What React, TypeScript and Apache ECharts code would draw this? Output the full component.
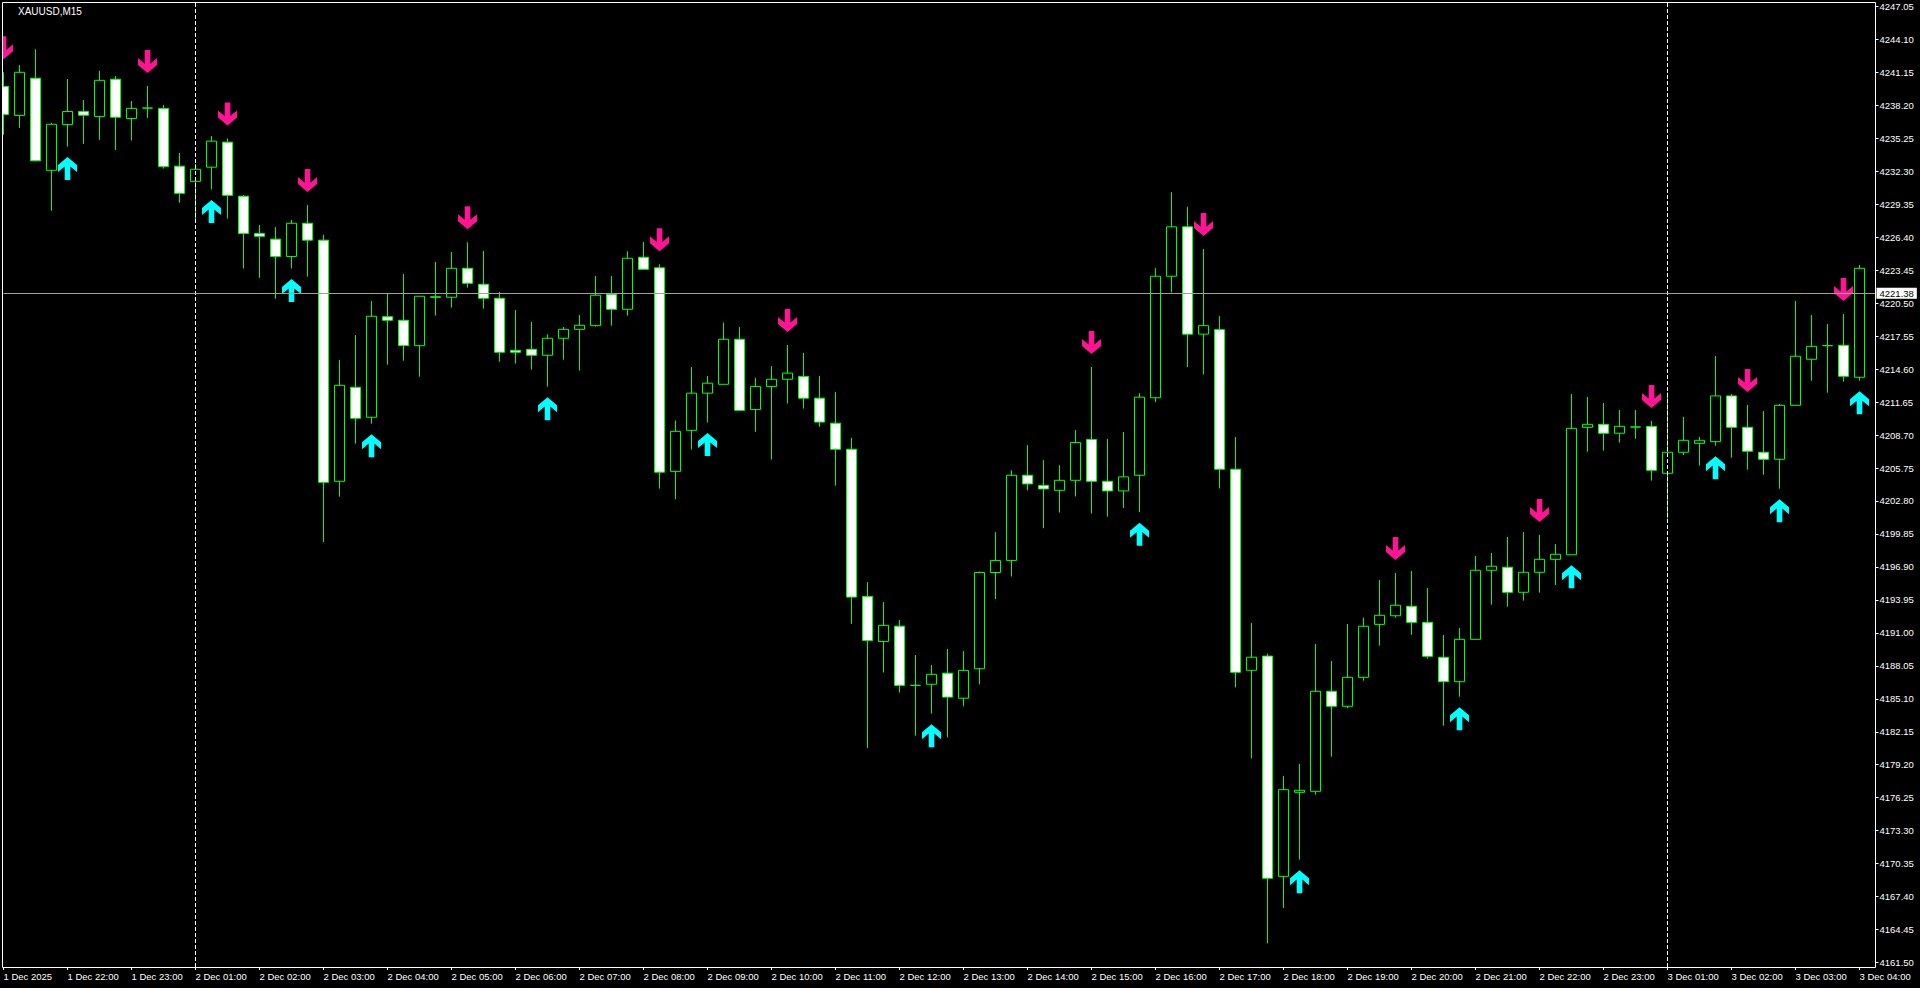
import React, { useEffect, useRef } from 'react';
import * as echarts from 'echarts';

const sessionHours = [
  '1 Dec 21', '1 Dec 22', '1 Dec 23',
  '2 Dec 01', '2 Dec 02', '2 Dec 03', '2 Dec 04', '2 Dec 05', '2 Dec 06', '2 Dec 07', '2 Dec 08',
  '2 Dec 09', '2 Dec 10', '2 Dec 11', '2 Dec 12', '2 Dec 13', '2 Dec 14', '2 Dec 15', '2 Dec 16',
  '2 Dec 17', '2 Dec 18', '2 Dec 19', '2 Dec 20', '2 Dec 21', '2 Dec 22', '2 Dec 23',
  '3 Dec 01', '3 Dec 02', '3 Dec 03', '3 Dec 04',
];
const quarters = ['00', '15', '30', '45'];

const xTickLabels = [
  '1 Dec 2025', '1 Dec 22:00', '1 Dec 23:00',
  '2 Dec 01:00', '2 Dec 02:00', '2 Dec 03:00', '2 Dec 04:00', '2 Dec 05:00', '2 Dec 06:00', '2 Dec 07:00', '2 Dec 08:00',
  '2 Dec 09:00', '2 Dec 10:00', '2 Dec 11:00', '2 Dec 12:00', '2 Dec 13:00', '2 Dec 14:00', '2 Dec 15:00', '2 Dec 16:00',
  '2 Dec 17:00', '2 Dec 18:00', '2 Dec 19:00', '2 Dec 20:00', '2 Dec 21:00', '2 Dec 22:00', '2 Dec 23:00',
  '3 Dec 01:00', '3 Dec 02:00', '3 Dec 03:00', '3 Dec 04:00',
];

const yTickLabels = [
  '4161.50', '4164.45', '4167.40', '4170.35', '4173.30', '4176.25', '4179.20', '4182.15', '4185.10', '4188.05',
  '4191.00', '4193.95', '4196.90', '4199.85', '4202.80', '4205.75', '4208.70', '4211.65', '4214.60', '4217.55',
  '4220.50', '4223.45', '4226.40', '4229.35', '4232.30', '4235.25', '4238.20', '4241.15', '4244.10', '4247.05',
];

const opens = [
  4239.90, 4237.30, 4240.63, 4232.39, 4236.48, 4237.65, 4237.21, 4240.54, 4237.02, 4237.96,
  4237.93, 4232.76, 4231.40, 4232.67, 4234.91, 4230.07, 4226.74, 4226.23, 4224.68, 4227.65,
  4226.14, 4204.56, 4212.97, 4210.29, 4219.29, 4218.97, 4216.70, 4221.02, 4221.03, 4223.62,
  4222.19, 4220.94, 4216.28, 4216.37, 4215.84, 4217.36, 4218.16, 4218.49, 4221.30, 4219.95,
  4224.61, 4223.66, 4205.45, 4209.12, 4212.45, 4213.24, 4217.27, 4210.98, 4213.05, 4213.69,
  4213.95, 4212.00, 4209.76, 4207.43, 4194.26, 4190.23, 4191.60, 4186.30, 4186.40, 4187.39,
  4185.15, 4187.79, 4196.40, 4197.48, 4205.10, 4204.19, 4203.75, 4204.65, 4208.30, 4204.56,
  4203.70, 4205.10, 4212.04, 4222.91, 4227.33, 4217.73, 4218.13, 4205.64, 4187.65, 4188.92,
  4169.21, 4176.73, 4176.82, 4185.77, 4184.43, 4187.02, 4191.76, 4192.53, 4193.38, 4191.94,
  4188.81, 4186.63, 4190.42, 4196.60, 4196.87, 4194.63, 4196.42, 4197.58, 4197.99, 4209.39,
  4209.66, 4208.86, 4209.42, 4209.48, 4205.28, 4207.16, 4207.96, 4208.11, 4212.20, 4209.39,
  4207.16, 4206.53, 4211.36, 4215.48, 4216.70, 4216.73, 4213.87,
];
const highs = [
  4241.16, 4241.80, 4243.22, 4236.63, 4240.56, 4238.68, 4241.29, 4240.83, 4238.59, 4239.93,
  4238.24, 4233.94, 4232.97, 4235.45, 4235.24, 4230.18, 4227.50, 4227.31, 4227.95, 4229.28,
  4226.62, 4215.42, 4217.65, 4220.70, 4221.32, 4223.11, 4221.12, 4224.19, 4225.08, 4225.95,
  4225.17, 4221.50, 4219.89, 4218.82, 4217.72, 4218.37, 4219.44, 4222.93, 4222.93, 4225.14,
  4225.98, 4223.98, 4210.01, 4214.78, 4213.98, 4218.77, 4218.36, 4213.82, 4214.87, 4216.76,
  4216.05, 4213.98, 4212.54, 4208.45, 4195.54, 4193.75, 4192.15, 4189.02, 4188.12, 4189.56,
  4189.37, 4196.49, 4200.01, 4205.55, 4207.80, 4206.45, 4206.00, 4209.15, 4214.79, 4208.35,
  4208.97, 4212.45, 4223.63, 4230.43, 4229.13, 4225.34, 4219.34, 4208.53, 4191.89, 4189.14,
  4178.19, 4179.26, 4190.00, 4188.48, 4191.79, 4192.36, 4195.73, 4196.36, 4196.53, 4195.01,
  4190.81, 4191.43, 4197.88, 4198.15, 4199.58, 4200.02, 4199.76, 4198.95, 4212.37, 4212.11,
  4211.57, 4210.94, 4210.94, 4209.96, 4212.53, 4210.32, 4208.53, 4215.77, 4212.37, 4211.39,
  4210.85, 4211.48, 4220.70, 4219.44, 4218.64, 4219.53, 4223.92,
];
const lows = [
  4235.57, 4236.18, 4233.18, 4228.77, 4234.51, 4234.75, 4235.11, 4234.21, 4235.06, 4237.08,
  4232.54, 4229.49, 4227.70, 4230.67, 4228.07, 4223.60, 4222.77, 4220.90, 4223.60, 4222.87,
  4199.12, 4203.18, 4207.93, 4209.72, 4215.00, 4215.35, 4213.92, 4219.38, 4220.10, 4221.89,
  4220.01, 4215.26, 4215.09, 4214.55, 4213.03, 4215.44, 4214.46, 4218.40, 4218.49, 4219.38,
  4223.47, 4203.91, 4202.95, 4207.40, 4209.82, 4213.24, 4210.91, 4208.99, 4206.50, 4211.52,
  4211.07, 4209.44, 4204.17, 4191.80, 4180.68, 4187.45, 4185.66, 4181.80, 4183.77, 4181.64,
  4184.42, 4186.39, 4194.01, 4196.04, 4203.75, 4200.36, 4201.76, 4203.21, 4201.67, 4201.40,
  4202.17, 4201.80, 4211.64, 4221.47, 4214.79, 4214.12, 4203.93, 4186.12, 4179.76, 4163.22,
  4166.38, 4170.70, 4176.52, 4179.92, 4184.25, 4186.72, 4189.85, 4192.36, 4190.83, 4188.69,
  4182.69, 4185.29, 4190.42, 4193.52, 4193.34, 4193.88, 4194.59, 4195.28, 4197.99, 4207.21,
  4207.30, 4208.02, 4208.37, 4204.62, 4201.25, 4206.92, 4205.96, 4207.75, 4206.67, 4205.60,
  4205.15, 4203.90, 4211.36, 4213.56, 4212.49, 4213.47, 4213.56,
];
const closes = [
  4237.39, 4241.16, 4233.24, 4236.51, 4237.65, 4237.32, 4240.44, 4237.14, 4237.93, 4237.96,
  4232.72, 4230.33, 4232.48, 4235.00, 4230.15, 4226.74, 4226.49, 4224.68, 4227.65, 4226.14,
  4204.47, 4213.15, 4210.20, 4219.33, 4218.97, 4216.70, 4221.12, 4221.08, 4223.62, 4222.28,
  4220.94, 4216.11, 4216.11, 4215.84, 4217.36, 4218.16, 4218.52, 4221.21, 4219.95, 4224.52,
  4223.53, 4205.38, 4209.03, 4212.45, 4213.34, 4217.27, 4210.91, 4213.05, 4213.69, 4214.24,
  4212.00, 4209.86, 4207.43, 4194.20, 4190.32, 4191.67, 4186.30, 4186.30, 4187.29, 4185.25,
  4187.64, 4196.40, 4197.48, 4205.10, 4204.33, 4203.88, 4204.65, 4208.03, 4204.56, 4203.70,
  4204.96, 4212.09, 4222.91, 4227.33, 4217.73, 4218.49, 4205.64, 4187.47, 4188.82, 4169.04,
  4176.97, 4176.91, 4185.77, 4184.43, 4187.02, 4191.59, 4192.57, 4193.47, 4191.94, 4188.90,
  4186.63, 4190.42, 4196.60, 4196.96, 4194.63, 4196.42, 4197.58, 4198.03, 4209.30, 4209.66,
  4208.86, 4209.48, 4209.42, 4205.55, 4207.16, 4208.23, 4208.23, 4212.20, 4209.39, 4207.25,
  4206.53, 4211.36, 4215.75, 4216.64, 4216.70, 4213.96, 4223.62,
];

const sellSignalIdx = [0, 9, 14, 19, 29, 41, 49, 68, 75, 87, 96, 103, 109, 115];
const buySignalIdx = [4, 13, 18, 23, 34, 44, 58, 71, 81, 91, 98, 107, 111, 116];

const priceLine = 4221.38;
const daySeparators = ['2 Dec 01:00', '3 Dec 01:00'];

const FONT = 'Liberation Sans';

export default function App() {
  const ref = useRef<HTMLDivElement>(null);
  useEffect(() => {
    const chart = echarts.init(ref.current!, undefined, { renderer: 'svg' });
    const categories = sessionHours
      .flatMap((h) => quarters.map((m) => `${h}:${m}`))
      .slice(0, opens.length + 1);
    const candleData = opens.map((o, i) => [o, closes[i], lows[i], highs[i]]);
    const everyHour = (index: number) => index % 4 === 0 && index / 4 < xTickLabels.length;
    const yVals = yTickLabels.map(Number);
    const downPath = 'path://M6.7 0H12.3V13.6L19 8V15L9.5 23L0 15V8L6.7 13.6Z';
    const upPath = 'path://M6.7 23H12.3V9.4L19 15V8L9.5 0L0 8V15L6.7 9.4Z';

    chart.setOption({
      animation: false,
      backgroundColor: '#000000',
      grid: { left: 3.5, top: 2, width: 1872, height: 965, containLabel: false, outerBoundsMode: 'none' },
      xAxis: {
        type: 'category',
        data: categories,
        boundaryGap: false,
        axisLine: { show: false },
        axisTick: { show: true, interval: everyHour, length: 3, lineStyle: { color: '#ffffff', width: 1 } },
        axisLabel: {
          interval: everyHour,
          formatter: (_v: string, index: number) => xTickLabels[index / 4] ?? '',
          color: '#ffffff',
          fontFamily: FONT,
          fontSize: 9.5,
          align: 'left',
          margin: 4,
          lineHeight: 11,
        },
        splitLine: { show: false },
      },
      yAxis: {
        type: 'value',
        position: 'right',
        min: 4161.10,
        max: 4247.45,
        axisLine: { show: false },
        axisTick: { show: true, customValues: yVals, length: 3, lineStyle: { color: '#ffffff' } },
        axisLabel: {
          customValues: yVals,
          formatter: (v: number) => v.toFixed(2),
          color: '#ffffff',
          fontFamily: FONT,
          fontSize: 9.5,
          margin: 4,
        },
        splitLine: { show: false },
      },
      series: [
        {
          type: 'candlestick',
          data: candleData,
          barWidth: 10,
          clip: false,
          silent: true,
          z: 2,
          itemStyle: {
            color: '#000000',
            color0: '#ffffff',
            borderColor: '#00ff00',
            borderColor0: '#00ff00',
            borderColorDoji: '#00ff00',
            borderWidth: 1,
          },
          markLine: {
            silent: true,
            symbol: ['none', 'none'],
            data: [
              ...daySeparators.map((d) => ({
                xAxis: d,
                lineStyle: { color: '#ffffff', type: [4, 2], width: 1 },
                label: { show: false },
              })),
              {
                yAxis: priceLine,
                lineStyle: { color: '#a0a0a0', type: 'solid', width: 1 },
                label: {
                  show: true,
                  position: 'end',
                  formatter: priceLine.toFixed(2),
                  backgroundColor: '#ffffff',
                  color: '#000000',
                  fontFamily: FONT,
                  fontSize: 9.5,
                  padding: [1, 3, 0, 3],
                  distance: 1,
                },
              },
            ],
          },
        },
        {
          type: 'scatter',
          data: sellSignalIdx.map((i) => [i, highs[i]]),
          symbol: downPath,
          symbolSize: [19, 23],
          symbolOffset: [0, -24.5],
          itemStyle: { color: '#ff1493', opacity: 1 },
          clip: false,
          silent: true,
          z: 3,
        },
        {
          type: 'scatter',
          data: buySignalIdx.map((i) => [i, lows[i]]),
          symbol: upPath,
          symbolSize: [19, 23],
          symbolOffset: [0, 22],
          itemStyle: { color: '#00ffff', opacity: 1 },
          clip: false,
          silent: true,
          z: 3,
        },
      ],
      graphic: [
        { type: 'rect', z: 100, shape: { x: 0, y: 0, width: 2, height: 988 }, style: { fill: '#000000' }, silent: true },
        {
          type: 'rect',
          z: 101,
          shape: { x: 2.5, y: 2.5, width: 1873, height: 965 },
          style: { fill: 'none', stroke: '#ffffff', lineWidth: 1 },
          silent: true,
        },
        {
          type: 'text',
          z: 102,
          x: 18,
          y: 6,
          style: { text: 'XAUUSD,M15', fill: '#ffffff', fontFamily: FONT, fontSize: 10, verticalAlign: 'top' },
          silent: true,
        },
      ],
    });
    return () => chart.dispose();
  }, []);
  return (
    <div
      ref={ref}
      style={{ position: 'fixed', left: 0, top: 0, width: 1920, height: 988, background: '#000000' }}
    />
  );
}
